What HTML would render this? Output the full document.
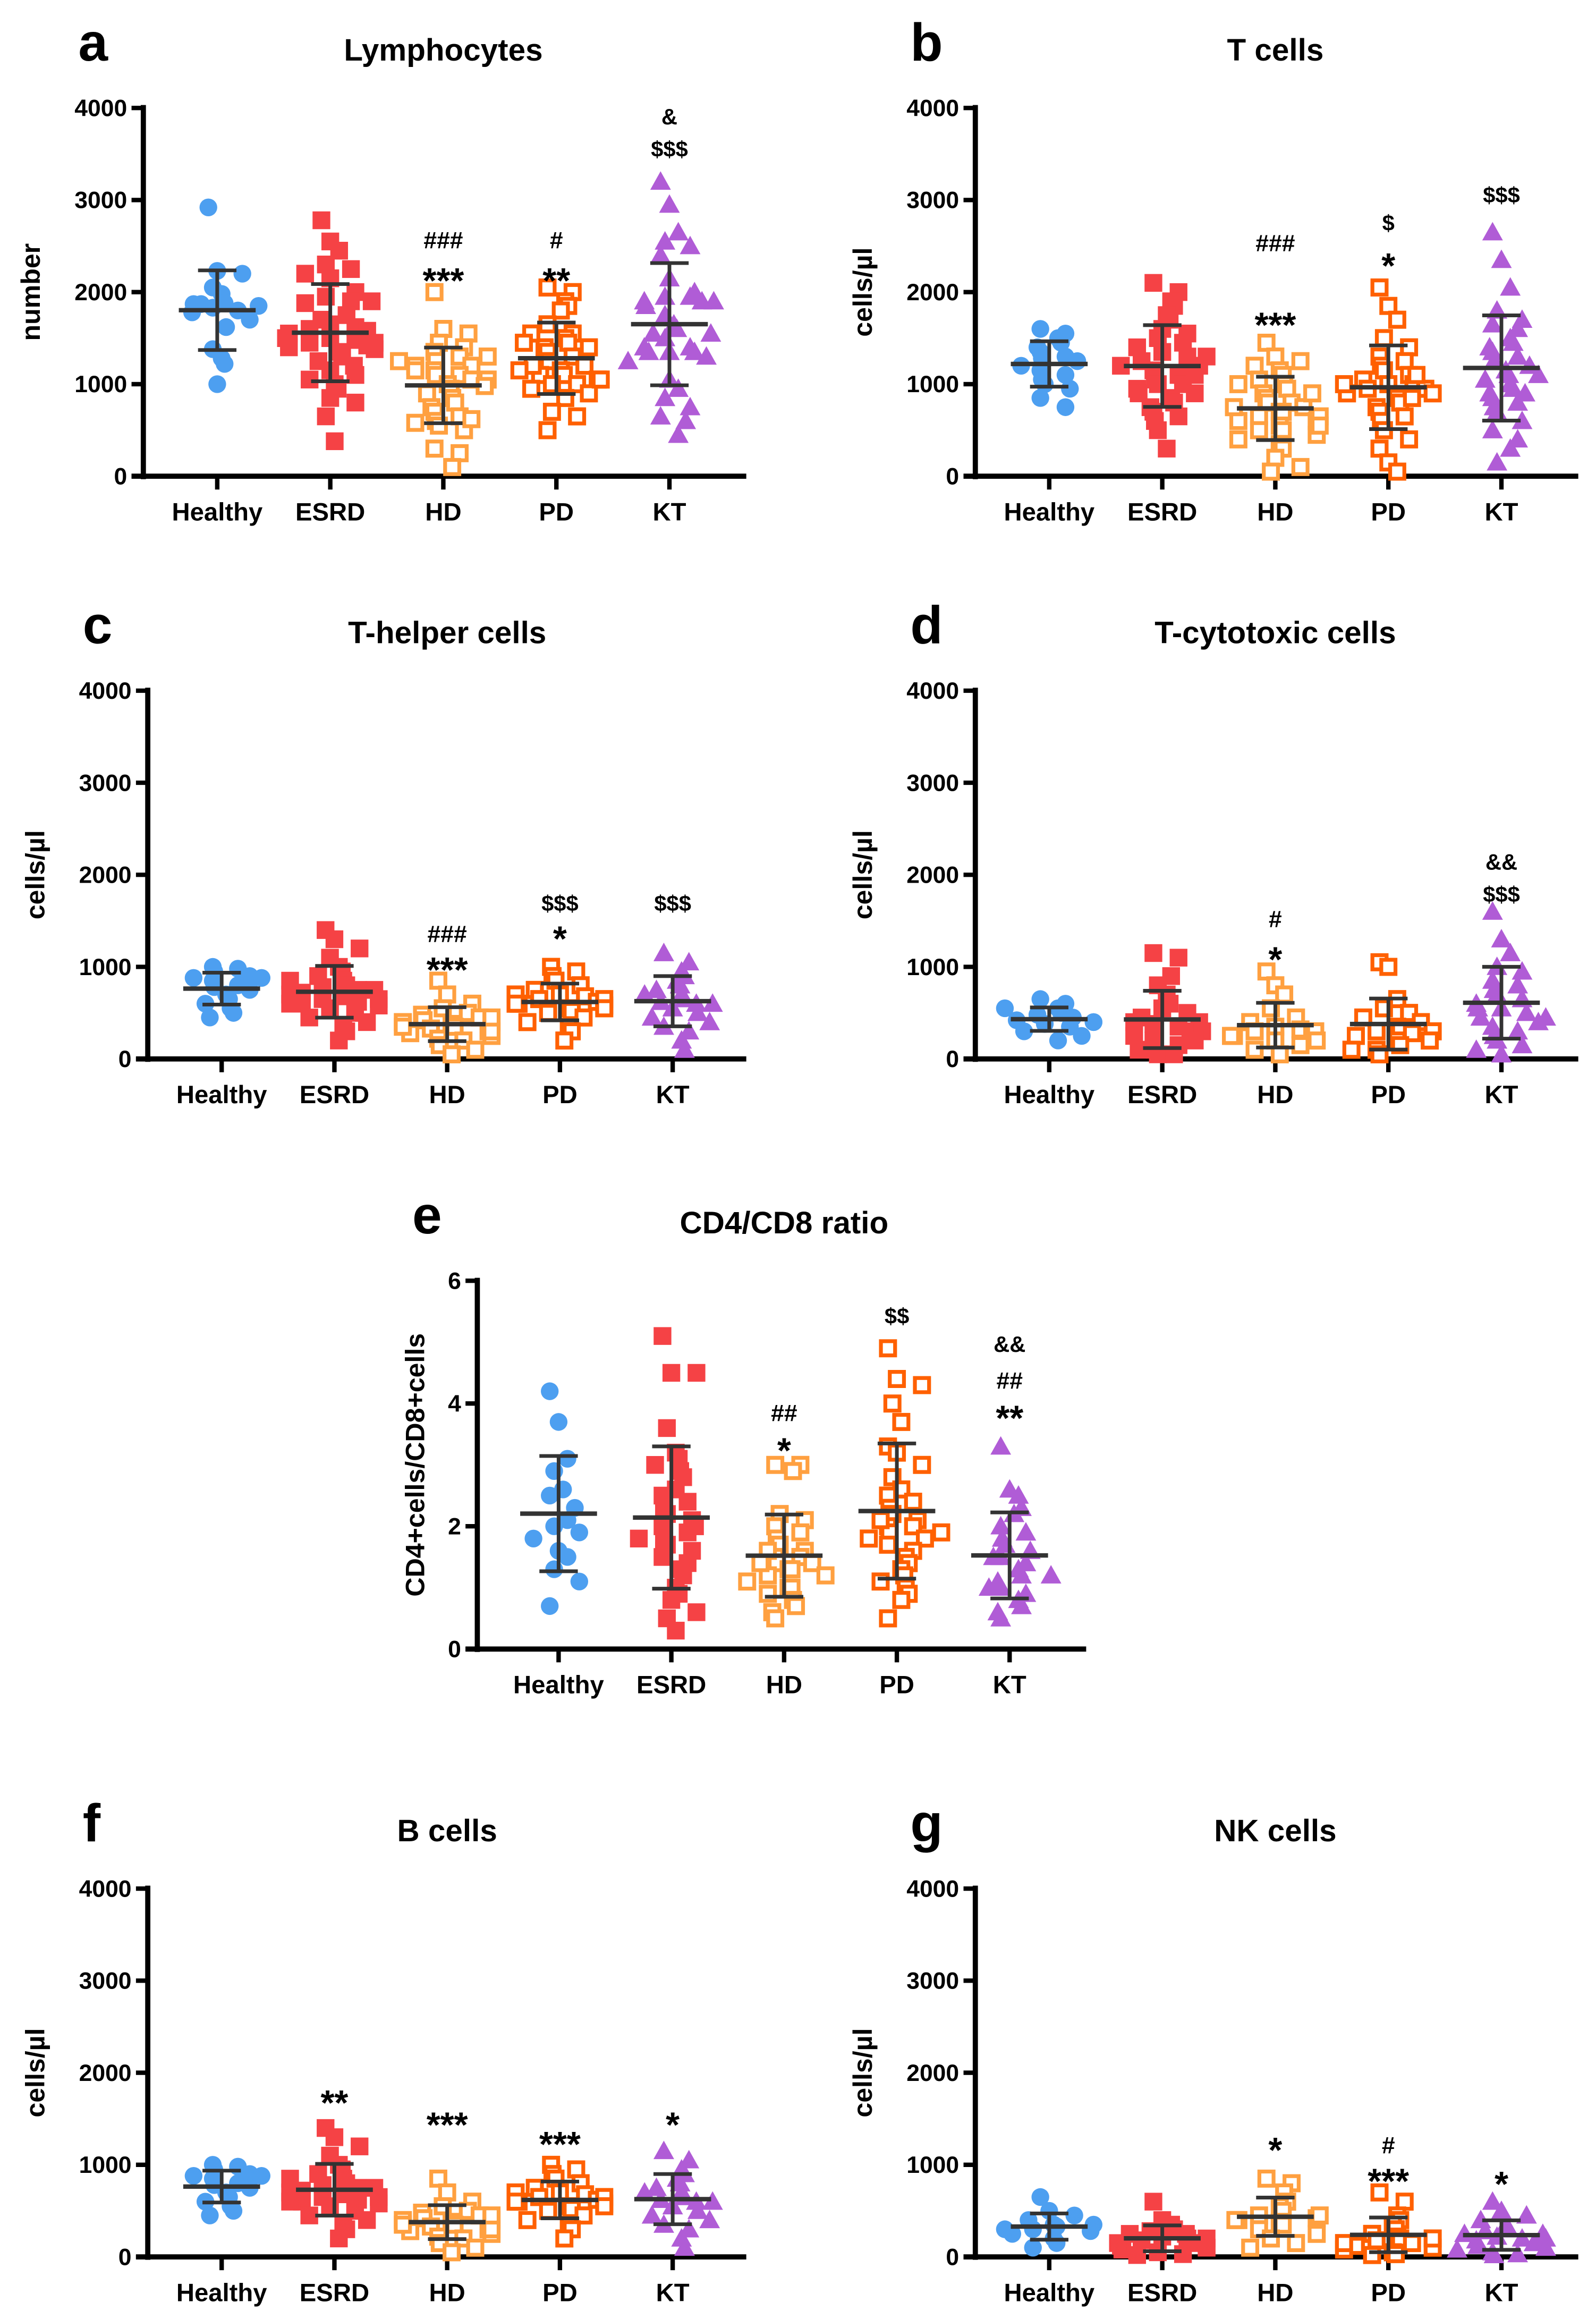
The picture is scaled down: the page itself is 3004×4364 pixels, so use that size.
<!DOCTYPE html>
<html><head><meta charset="utf-8">
<style>
html,body{margin:0;padding:0;background:#fff;}
svg{display:block;}
text{font-family:"Liberation Sans",Arial,sans-serif;font-weight:bold;fill:#000;}
</style></head>
<body>
<svg id="fig" width="3004" height="4364" viewBox="0 0 1080 1568" preserveAspectRatio="none" xmlns="http://www.w3.org/2000/svg"></svg>
<script>
const groups = ["Healthy","ESRD","HD","PD","KT"];
const aH=[2920,2230,2200,2050,1980,1880,1870,1850,1830,1800,1780,1700,1620,1380,1280,1220,1000,1870];
const aE=[2780,2550,2450,2300,2250,2200,2150,2000,1950,1900,1880,1650,1620,1600,1580,1550,1500,1480,1450,1420,1400,1380,1350,1300,1250,1200,1150,1100,1050,1000,950,850,800,650,380,1700,1750,1900,1500,1450];
const aHD=[2000,1600,1550,1450,1400,1350,1300,1250,1200,1200,1150,1100,1100,1050,1000,950,900,850,800,750,700,650,600,550,500,300,250,100,1300,1150,1250,1050,980,620,580];
const aPD=[2050,2000,1900,1850,1800,1650,1550,1500,1450,1400,1350,1300,1250,1200,1150,1100,1100,1050,1000,1000,950,900,850,700,650,500,1400,1200,1150,1050,1550,1450];
const aKT=[3200,2950,2650,2550,2500,2400,2150,2000,1950,1950,1900,1900,1850,1750,1650,1600,1550,1550,1500,1400,1400,1350,1350,1350,1300,1250,1050,950,850,750,650,600,450,1900];
const bH=[1600,1550,1500,1450,1400,1350,1300,1280,1250,1200,1150,1100,1050,1000,950,850,750];
const bE=[2100,2000,1900,1850,1750,1700,1600,1550,1500,1450,1400,1350,1300,1250,1200,1150,1100,1050,1000,1000,950,900,850,800,750,700,650,600,500,300,1200,1100,900,1300];
const bHD=[1450,1300,1250,1200,1150,1100,1050,1000,950,900,850,800,800,750,700,700,650,600,600,550,500,500,450,400,350,300,200,100,50,900,750,650,550,1000];
const bPD=[2050,1850,1700,1500,1400,1300,1250,1200,1150,1100,1050,1000,1000,950,950,900,900,850,800,750,700,650,600,500,400,300,150,50,1100,1000,850];
const bKT=[2650,2350,2050,1800,1700,1650,1600,1500,1450,1400,1350,1300,1250,1200,1150,1100,1050,1000,950,900,850,800,750,700,600,500,400,300,150,1100,900];
const cH=[1000,980,950,900,880,850,800,780,750,700,650,600,550,500,450,880];
const cE=[1400,1300,1200,1100,1000,950,900,850,800,780,750,720,700,680,650,620,600,580,550,500,450,400,350,300,200,750,700,650,600,850];
const cHD=[850,700,600,550,500,480,450,420,400,380,350,330,300,280,250,220,200,150,100,50,400,350,300,450];
const cPD=[1000,950,900,850,800,750,700,680,650,620,600,580,550,520,500,450,400,350,300,200,700,650,600,550];
const cKT=[1150,1050,950,900,850,800,750,700,650,620,600,550,500,450,400,350,300,200,100,700,600];
const dH=[650,600,550,500,480,450,420,400,380,350,300,250,200,550,400];
const dE=[1150,1100,900,800,700,600,550,500,450,400,380,350,320,300,250,200,150,100,50,400,300,200,100,50];
const dHD=[950,800,700,550,450,400,350,320,300,280,250,200,150,100,50,300,250,200];
const dPD=[1050,1000,650,550,500,450,400,350,320,300,280,250,200,150,100,50,300,200,100];
const dKT=[1600,1300,1150,1000,950,850,800,750,700,650,600,550,500,450,400,350,300,250,200,150,100,50,550,450];
const eH=[4.2,3.7,3.1,2.9,2.6,2.5,2.3,2.1,2.0,1.9,1.8,1.6,1.5,1.3,1.1,0.7];
const eE=[5.1,4.5,4.5,3.6,3.2,3.1,3.0,2.9,2.8,2.6,2.5,2.4,2.3,2.2,2.1,2.0,1.9,1.8,1.7,1.6,1.5,1.4,1.3,1.2,1.0,0.9,0.8,0.6,0.5,0.3,2.0,1.8,1.6];
const eHD=[3.0,3.0,2.9,2.2,2.1,2.0,1.9,1.8,1.7,1.6,1.5,1.5,1.4,1.4,1.3,1.3,1.2,1.2,1.1,1.0,1.0,0.9,0.8,0.7,0.6,0.5,1.6,1.4];
const ePD=[4.9,4.4,4.3,4.0,3.7,3.3,3.2,3.0,2.8,2.6,2.5,2.4,2.3,2.2,2.1,2.0,2.0,1.9,1.8,1.8,1.7,1.6,1.5,1.4,1.3,1.2,1.1,1.0,0.9,0.8,0.5,2.1,1.9];
const eKT=[3.3,2.6,2.5,2.3,2.2,2.0,1.9,1.8,1.7,1.6,1.5,1.4,1.3,1.2,1.1,1.0,0.9,0.8,0.7,0.6,0.5,1.5,1.2,1.0];
const fH=[1000,980,950,900,880,850,800,780,750,700,650,600,550,500,450,880];
const fE=[1400,1300,1200,1100,1000,950,900,850,800,780,750,720,700,680,650,620,600,580,550,500,450,400,350,300,200,750,700,650,600,850];
const fHD=[850,700,600,550,500,480,450,420,400,380,350,330,300,280,250,220,200,150,100,50,400,350,300,450];
const fPD=[1000,950,900,850,800,750,700,680,650,620,600,580,550,520,500,450,400,350,300,200,700,650,600,550];
const fKT=[1150,1050,950,900,850,800,750,700,650,620,600,550,500,450,400,350,300,200,100,700,600];
const gH=[650,500,450,400,350,330,300,280,250,200,150,100,350,300];
const gE=[600,400,350,300,280,250,220,200,180,150,120,100,80,50,30,20,250,200,150,100];
const gHD=[850,800,700,600,550,500,450,420,400,380,350,300,250,200,150,100,450,400];
const gPD=[700,600,450,400,350,300,250,220,200,180,150,120,100,80,50,30,20,200,150];
const gKT=[600,500,450,400,350,300,280,250,220,200,180,150,120,100,80,50,30,20,250,200];
const ticksCount=[0,1000,2000,3000,4000];
const ticksRatio=[0,2,4,6];

const NS="http://www.w3.org/2000/svg";
const svg=document.getElementById('fig');
function mk(tag,attrs,parent,txt){const e=document.createElementNS(NS,tag);for(const k in attrs)e.setAttribute(k,attrs[k]);if(txt!==undefined)e.textContent=txt;(parent||svg).appendChild(e);return e;}

const colors=["#4d9ff0","#f54245","#ffa040","#ff6000","#b05cd6"];
const panels=[
 {id:"a",title:"Lymphocytes",ylab:"number",ax:97,top:73,bot:322,cx0:147,dx:76.5,xend:505,max:4000,ticks:ticksCount,data:[aH,aE,aHD,aPD,aKT],
  ann:[[2,"###",162,16],[2,"***",186,24],[3,"#",162,16],[3,"**",186,24],[4,"&",78,15],[4,"$$$",100,15]]},
 {id:"b",title:"T cells",ylab:"cells/µl",ax:660,top:73,bot:322,cx0:710,dx:76.5,xend:1068,max:4000,ticks:ticksCount,data:[bH,bE,bHD,bPD,bKT],
  ann:[[2,"###",164,16],[2,"***",216,24],[3,"$",150,15],[3,"*",176,24],[4,"$$$",131,15]]},
 {id:"c",title:"T-helper cells",ylab:"cells/µl",ax:100,top:467,bot:716,cx0:150,dx:76.3,xend:505,max:4000,ticks:ticksCount,data:[cH,cE,cHD,cPD,cKT],
  ann:[[2,"###",631,16],[2,"***",652,24],[3,"$$$",610,15],[3,"*",631,24],[4,"$$$",610,15]]},
 {id:"d",title:"T-cytotoxic cells",ylab:"cells/µl",ax:660,top:467,bot:716,cx0:710,dx:76.5,xend:1068,max:4000,ticks:ticksCount,data:[dH,dE,dHD,dPD,dKT],
  ann:[[2,"#",621,16],[2,"*",645,24],[4,"&&",582,15],[4,"$$$",604,15]]},
 {id:"e",title:"CD4/CD8 ratio",ylab:"CD4+cells/CD8+cells",ax:323,top:866,bot:1115,cx0:378,dx:76.3,xend:735,max:6,ticks:ticksRatio,data:[eH,eE,eHD,ePD,eKT],
  ann:[[2,"##",955,16],[2,"*",977,24],[3,"$$",889,15],[4,"&&",908,15],[4,"##",933,16],[4,"**",955,24]]},
 {id:"f",title:"B cells",ylab:"cells/µl",ax:100,top:1277,bot:1526,cx0:150,dx:76.3,xend:505,max:4000,ticks:ticksCount,data:[fH,fE,fHD,fPD,fKT],
  ann:[[1,"**",1418,24],[2,"***",1433,24],[3,"***",1446,24],[4,"*",1433,24]]},
 {id:"g",title:"NK cells",ylab:"cells/µl",ax:660,top:1277,bot:1526,cx0:710,dx:76.5,xend:1068,max:4000,ticks:ticksCount,data:[gH,gE,gHD,gPD,gKT],
  ann:[[2,"*",1450,24],[3,"#",1450,16],[3,"***",1471,24],[4,"*",1473,24]]}
];

function drawMarker(g,gi,x,y){
  const c=colors[gi];let m;
  if(gi===0){m=mk('circle',{cx:x,cy:y,r:6,fill:c},g);}
  else if(gi===1){m=mk('rect',{x:x-6,y:y-6,width:12,height:12,fill:c},g);}
  else if(gi===2||gi===3){m=mk('rect',{x:x-4.8,y:y-4.8,width:9.6,height:9.6,fill:"#fff",stroke:c,"stroke-width":2.6},g);}
  else {m=mk('polygon',{points:`${x},${y-7} ${x-7},${y+5.5} ${x+7},${y+5.5}`,fill:c},g);}
  
  
}

panels.forEach(p=>{
  const g=mk('g',{});
  
  
  const ys=v=>p.bot-(v/p.max)*(p.bot-p.top);
  const xs=i=>p.cx0+i*p.dx;
  let t;
  t=mk('text',{x:p.ax-44,y:p.top-32,"font-size":36},g,p.id);
  t=mk('text',{x:xs(2),y:p.top-32,"font-size":21,"text-anchor":"middle"},g,p.title);
  const yl=p.ax-(p.id==="e"?36:70);
  t=mk('text',{x:0,y:0,"font-size":18,"text-anchor":"middle",transform:`translate(${yl},${(p.top+p.bot)/2}) rotate(-90)`},g,p.ylab);
  let l=mk('line',{x1:p.ax,y1:p.top-2,x2:p.ax,y2:p.bot+2,stroke:"#000","stroke-width":3.5},g);
  l=mk('line',{x1:p.ax-8,y1:p.bot,x2:p.xend,y2:p.bot,stroke:"#000","stroke-width":3.5},g);
  p.ticks.forEach(v=>{
    const y=ys(v);
    const tk=mk('line',{x1:p.ax-8,y1:y,x2:p.ax,y2:y,stroke:"#000","stroke-width":3},g);
    const tl=mk('text',{x:p.ax-11,y:y+5.5,"font-size":16,"text-anchor":"end"},g,String(v));
  });
  groups.forEach((nm,i)=>{
    const x=xs(i);
    const tk=mk('line',{x1:x,y1:p.bot,x2:x,y2:p.bot+9,stroke:"#000","stroke-width":3},g);
    const tl=mk('text',{x:x,y:p.bot+30,"font-size":17,"text-anchor":"middle"},g,nm);
    const vals=p.data[i];
    const counts={};
    vals.forEach((v,k)=>{
      const key=Math.round(v/(p.max/25));
      counts[key]=(counts[key]||0)+1;
      const n=counts[key];
      const off=(n%2===0?1:-1)*Math.floor(n/2)*11 + ((k*7)%5-2)*3;
      drawMarker(g,i,x+Math.max(-30,Math.min(30,off)),ys(v));
    });
    const mean=vals.reduce((a,b)=>a+b,0)/vals.length;
    const sd=Math.sqrt(vals.reduce((a,b)=>a+(b-mean)*(b-mean),0)/(vals.length-1));
    const eg=mk('g',{stroke:"#333","stroke-width":2.5},g);
    
    
    mk('line',{x1:x,y1:ys(mean+sd),x2:x,y2:ys(Math.max(0,mean-sd))},eg);
    mk('line',{x1:x-13,y1:ys(mean+sd),x2:x+13,y2:ys(mean+sd)},eg);
    mk('line',{x1:x-13,y1:ys(Math.max(0,mean-sd)),x2:x+13,y2:ys(Math.max(0,mean-sd))},eg);
    mk('line',{x1:x-26,y1:ys(mean),x2:x+26,y2:ys(mean),"stroke-width":3},eg);
  });
  p.ann.forEach(a=>{
    const size=a[3];
    const yy=size>20?a[2]+12:a[2]+6;
    const t2=mk('text',{x:xs(a[0]),y:yy,"font-size":size,"text-anchor":"middle","font-weight":size>20?"bold":"normal"},g,a[1]);
    
    
  });
});
</script>
</body></html>
